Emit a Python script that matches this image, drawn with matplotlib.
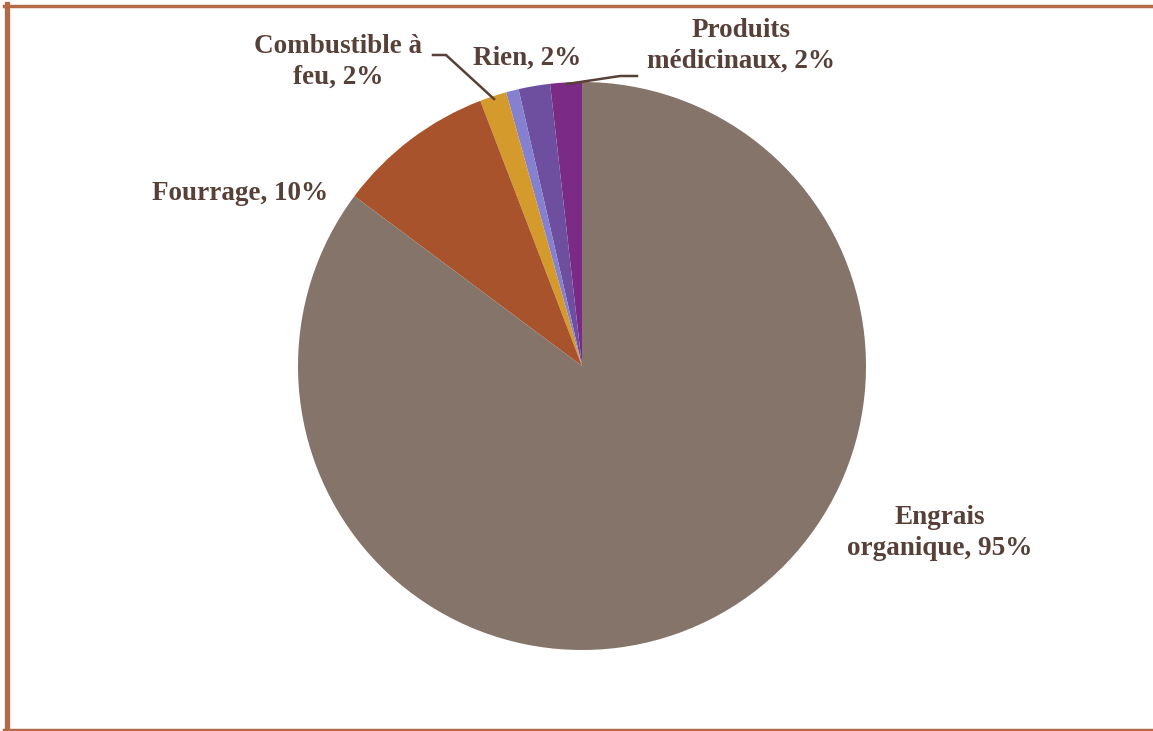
import matplotlib.pyplot as plt
from matplotlib.lines import Line2D

# Slices, counterclockwise from the top
categories = ["Produits médicinaux", "Rien", "", "Combustible à feu", "Fourrage", "Engrais organique"]
values = [2, 2, 0.8, 1.7, 10, 95]
labels = ["Produits\nmédicinaux, 2%", "Rien, 2%", "", "Combustible à\nfeu, 2%",
          "Fourrage, 10%", "Engrais\norganique, 95%"]
colors = ["#7B2A86", "#6E4F9F", "#8580D0", "#D59A2C", "#A8532B", "#857469"]

W, H = 1153, 731
fig = plt.figure(figsize=(W / 100, H / 100), dpi=100)
ax = fig.add_axes([0, 0, 1, 1])

cx, cy, r = 582, H - 366, 284
ax.pie(values, colors=colors, startangle=90, counterclock=True,
       center=(cx, cy), radius=r, frame=True,
       wedgeprops=dict(linewidth=0))
ax.set_xlim(0, W)
ax.set_ylim(0, H)
ax.set_aspect("equal")
ax.axis("off")

txt = dict(fontsize=19.5, fontweight="bold", color="#574038",
           family="Liberation Serif", ha="center", va="center", linespacing=1.3)

# label positions (pixel coords, y from top)
pos = {0: (741, 46), 1: (527, 58), 3: (338, 62), 4: (240, 193), 5: (940, 533)}
for i, (x, y) in pos.items():
    ax.text(x, H - y, labels[i], **txt)

# leader lines
lc = "#574038"
ax.plot([433, 446, 494], [H - 55, H - 55, H - 99], color=lc, lw=1.8)
ax.plot([637, 620, 567], [H - 76, H - 76, H - 84], color=lc, lw=1.8)

# frame on left, top and bottom
fc = "#B36B47"
fig.add_artist(Line2D([6.5 / W, 6.5 / W], [0, 1 - 4 / H], color=fc, lw=3.8))
fig.add_artist(Line2D([4 / W, 1], [1 - 5.5 / H, 1 - 5.5 / H], color=fc, lw=2.5))
fig.add_artist(Line2D([4 / W, 1], [1.5 / H, 1.5 / H], color=fc, lw=2.5))

fig.savefig("out.png", dpi=100, facecolor="white")
